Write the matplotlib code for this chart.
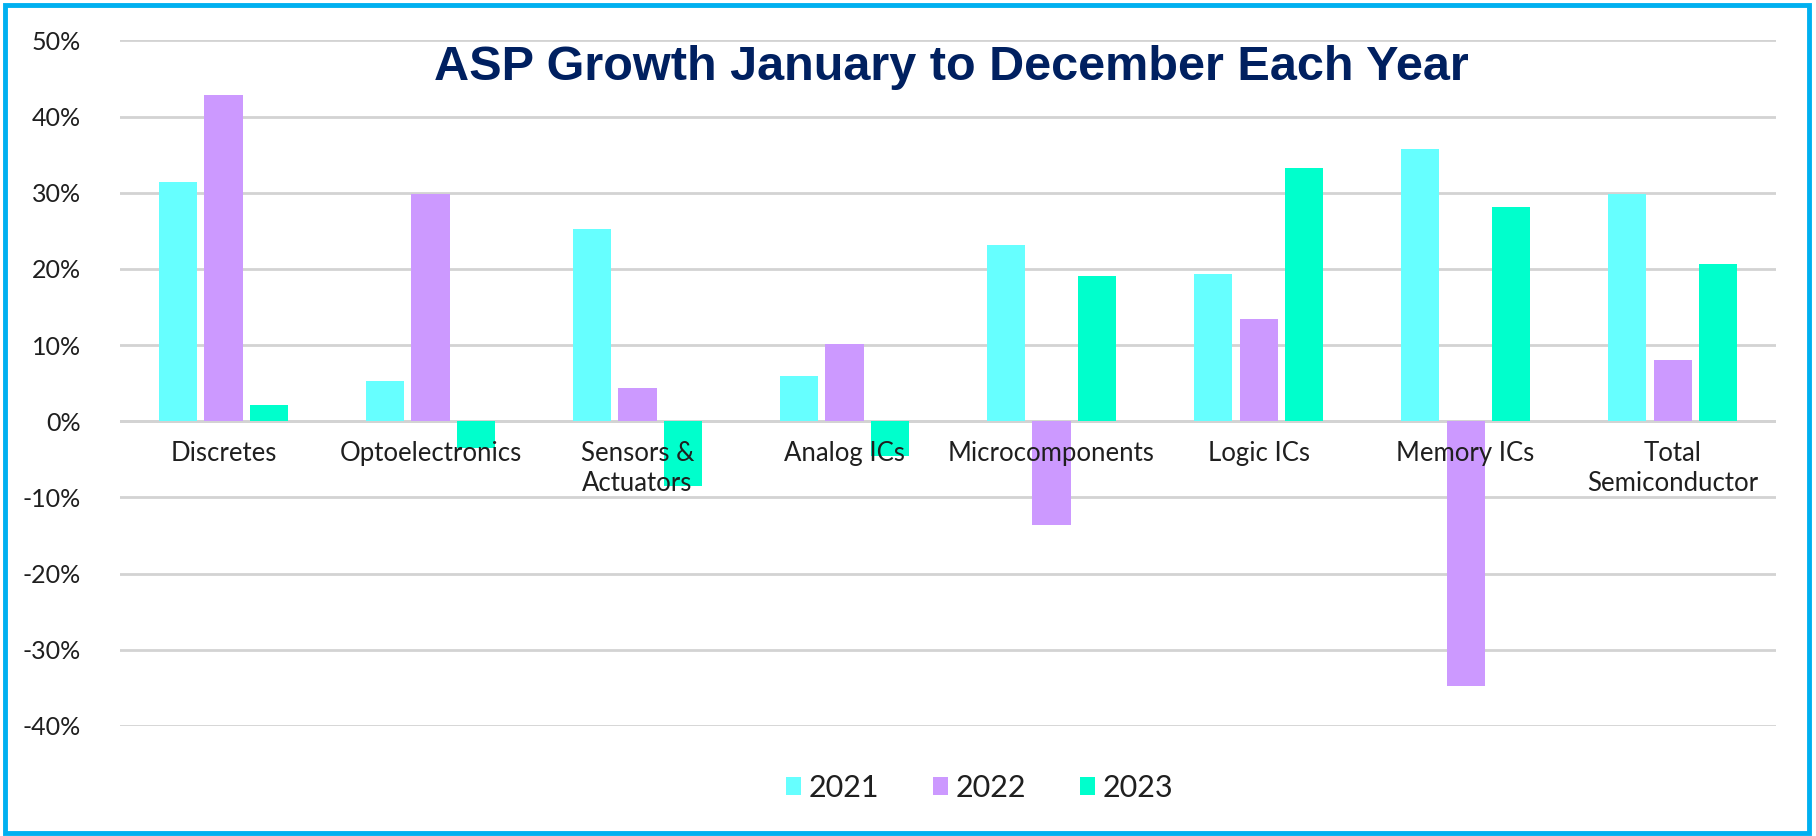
import matplotlib
matplotlib.use("Agg")
import matplotlib.pyplot as plt
import numpy as np
from matplotlib.patches import Rectangle
from matplotlib.ticker import FuncFormatter

categories = ["Discretes", "Optoelectronics", "Sensors &\nActuators", "Analog ICs",
              "Microcomponents", "Logic ICs", "Memory ICs", "Total\nSemiconductor"]
years = ["2021", "2022", "2023"]
v2021 = [31.4, 5.3, 25.3, 5.9, 23.2, 19.4, 35.7, 29.9]
v2022 = [42.8, 29.9, 4.4, 10.1, -13.6, 13.4, -34.8, 8.1]
v2023 = [2.1, -3.5, -8.5, -4.6, 19.1, 33.2, 28.2, 20.6]
yticks = [-40, -30, -20, -10, 0, 10, 20, 30, 40, 50]
title = "ASP Growth January to December Each Year"

colors = ["#66FFFF", "#CC99FF", "#00FFCC"]
body = ["Lato", "DejaVu Sans"]

fig = plt.figure(figsize=(18.16, 8.36), dpi=100)
ax = fig.add_axes([0.0661, 0.1316, 0.9119, 0.8200])

x = np.arange(len(categories))
step = 0.219
width = 0.184
for i, (vals, c, lab) in enumerate(zip([v2021, v2022, v2023], colors, years)):
    ax.bar(x + (i - 1) * step, vals, width=width, color=c, label=lab, zorder=3)

ax.set_xlim(-0.5, len(categories) - 0.5)
ax.set_ylim(-40, 50)
ax.set_yticks(yticks)
ax.yaxis.set_major_formatter(FuncFormatter(lambda v, p: f"{int(v)}%"))
ax.grid(axis="y", color="#D3D3D3", lw=2, zorder=0)
ax.axhline(0, color="#D3D3D3", lw=2, zorder=1)
for s in ax.spines.values():
    s.set_visible(False)
ax.tick_params(axis="y", length=0, pad=28, labelsize=18, labelcolor="#1F1F1F")
for t in ax.get_yticklabels():
    t.set_family(body)
ax.set_xticks([])

for xi, cat in zip(x, categories):
    ax.text(xi, -2.6, cat, ha="center", va="top", fontsize=18.5, family=body,
            color="#1F1F1F", linespacing=1.25, zorder=5)

fig.text(0.524, 0.919, title, ha="center", va="center", fontsize=35,
         fontweight="bold", color="#002060", family=["Liberation Sans", "DejaVu Sans"])

leg = fig.legend(loc="center", bbox_to_anchor=(0.5395, 0.0575), ncol=3, frameon=False,
                 prop={"family": body, "size": 22}, handlelength=0.5, handleheight=0.5,
                 handletextpad=0.25, columnspacing=1.75)
for t in leg.get_texts():
    t.set_color("#1F1F1F")

fig.patches.append(Rectangle((0.003, 0.004), 0.993, 0.99, transform=fig.transFigure,
                             fill=False, edgecolor="#00B0F0", lw=3.5))

fig.savefig("out.png", dpi=100, facecolor="white")
